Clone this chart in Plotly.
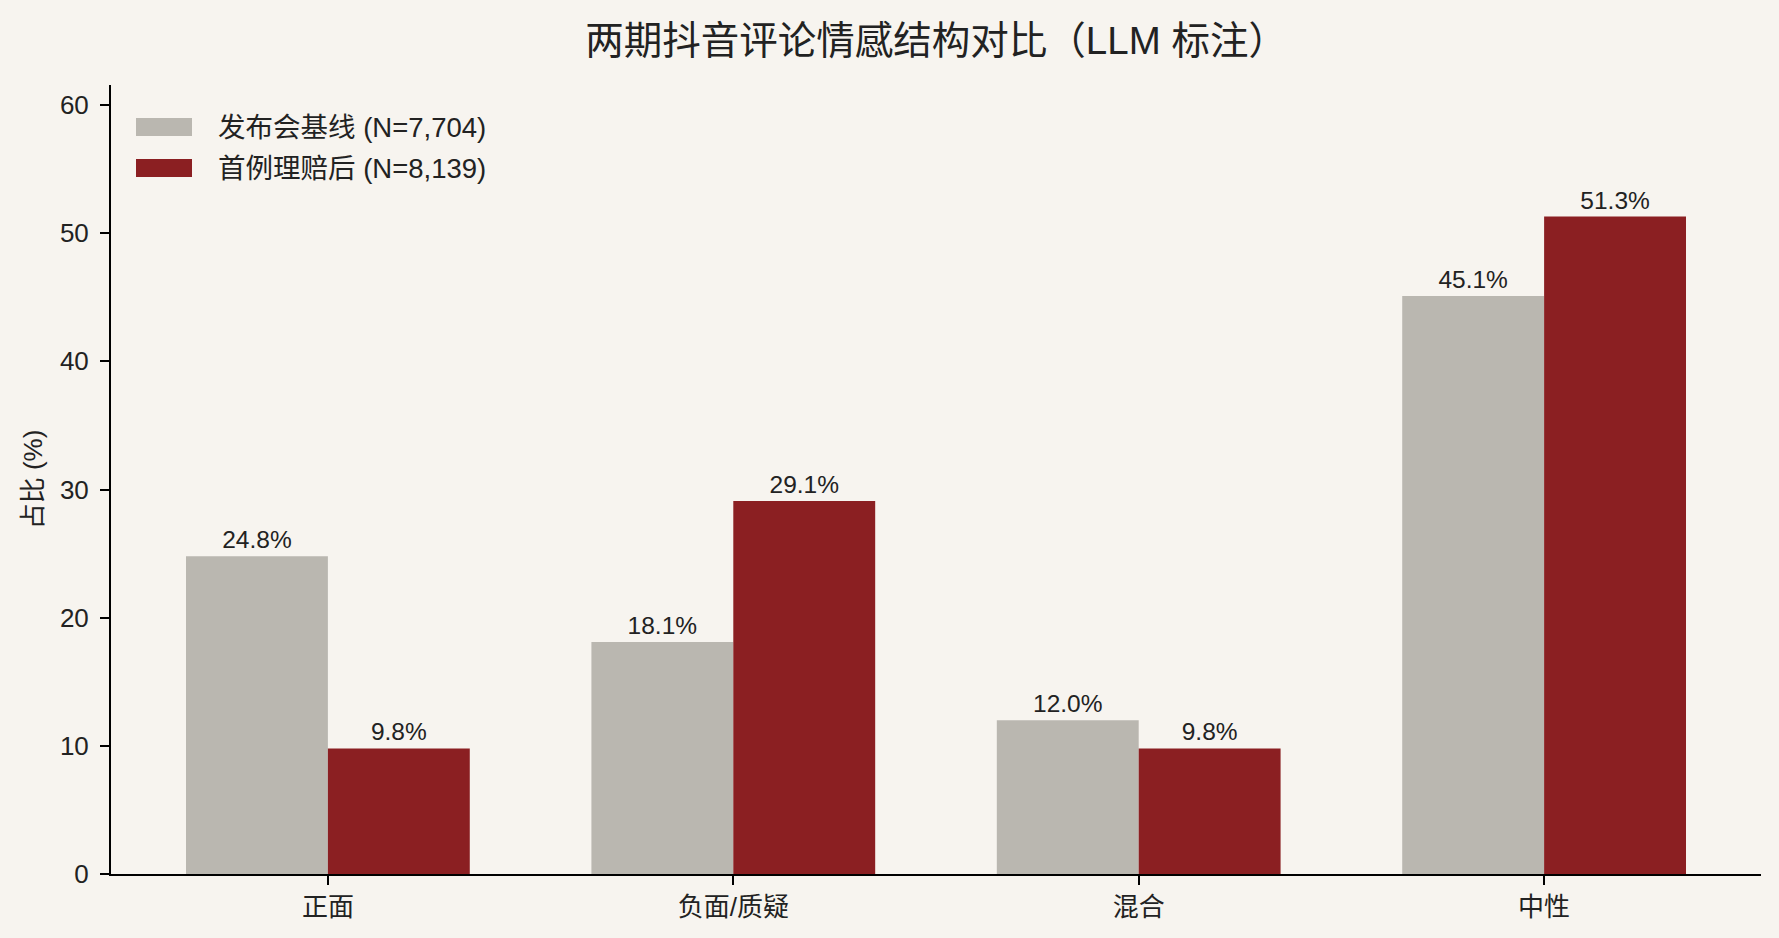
import plotly.graph_objects as go

categories = ["正面", "负面/质疑", "混合", "中性"]
baseline_name = "发布会基线 (N=7,704)"
baseline_vals = [24.8, 18.1, 12.0, 45.1]
after_name = "首例理赔后 (N=8,139)"
after_vals = [9.8, 29.1, 9.8, 51.3]
y_ticks = [0, 10, 20, 30, 40, 50, 60]

title = "两期抖音评论情感结构对比（LLM 标注）"
y_title = "占比 (%)"

BG = "#F7F4EF"
GRAY = "#BAB7B0"
RED = "#8B1F22"
TXT = "#222222"
FONT = "Liberation Sans, Arial, Noto Sans CJK SC, sans-serif"
TITLE_FONT = "Liberation Sans, Arial, Noto Sans CJK TC, sans-serif"

series = [(baseline_name, baseline_vals, GRAY), (after_name, after_vals, RED)]

fig = go.Figure()
for name, vals, color in series:
    fig.add_trace(go.Bar(
        x=categories, y=vals, name=name,
        marker=dict(color=color, line=dict(width=0)),
        texttemplate="%{y:.1f}%", textposition="outside",
        textfont=dict(size=24.5, color=TXT), cliponaxis=False,
        showlegend=False,
    ))

# custom legend (wide swatches like the reference)
L, R, T, B = 111, 18, 85, 64
W, H = 1779, 938
pw, ph = W - L - R, H - T - B


def px_x(x):
    return (x - L) / pw


def px_y(y):
    return (H - B - y) / ph


for i, (name, vals, color) in enumerate(series):
    cy = 127 + 41 * i
    fig.add_shape(type="rect", xref="paper", yref="paper",
                  x0=px_x(136), x1=px_x(192), y0=px_y(cy + 9), y1=px_y(cy - 9),
                  fillcolor=color, line=dict(width=0))
    fig.add_annotation(xref="paper", yref="paper", x=px_x(216), y=px_y(cy),
                       xanchor="left", yanchor="middle", text=name, showarrow=False,
                       font=dict(size=27.5, color=TXT))

ymax = max(max(baseline_vals), max(after_vals)) * 1.2

fig.update_layout(
    width=W, height=H,
    paper_bgcolor=BG, plot_bgcolor=BG,
    font=dict(family=FONT, color=TXT, size=26),
    margin=dict(l=L, r=R, t=T, b=B),
    barmode="group", bargap=0.3, bargroupgap=0,
    title=dict(text=title, x=0.5262, xanchor="center", y=0.957, yanchor="middle",
               font=dict(size=38.5, color=TXT, family=TITLE_FONT)),
    showlegend=False,
)
fig.update_xaxes(
    range=[-0.535, 3.535], showline=True, linecolor="black", linewidth=2,
    ticks="outside", ticklen=9, tickwidth=2, tickcolor="black",
    showgrid=False, zeroline=False, tickfont=dict(size=26, color=TXT),
)
fig.update_yaxes(
    range=[0, ymax], tickvals=y_ticks, showline=True, linecolor="black", linewidth=2,
    ticks="outside", ticklen=9, tickwidth=2, tickcolor="black",
    ticklabelstandoff=6,
    showgrid=False, zeroline=False, tickfont=dict(size=26, color=TXT),
    title=dict(text=y_title, font=dict(size=26, color=TXT), standoff=10),
)

fig.write_html("out.html")
